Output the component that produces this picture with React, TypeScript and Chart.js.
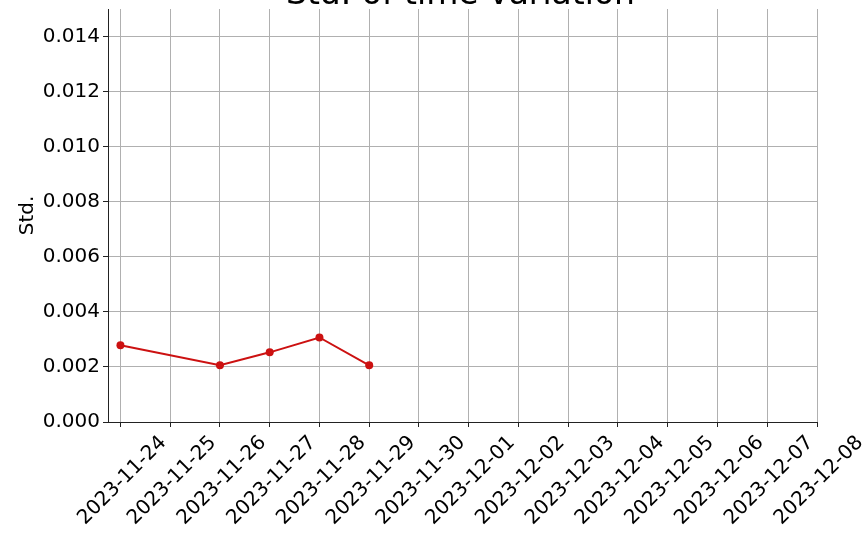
import React, { useEffect, useRef } from "react";
import { Chart, registerables } from "chart.js";

Chart.register(...registerables);

const dates = [
  "2023-11-24", "2023-11-25", "2023-11-26", "2023-11-27", "2023-11-28",
  "2023-11-29", "2023-11-30", "2023-12-01", "2023-12-02", "2023-12-03",
  "2023-12-04", "2023-12-05", "2023-12-06", "2023-12-07", "2023-12-08",
];
const pointDates = ["2023-11-24", "2023-11-26", "2023-11-27", "2023-11-28", "2023-11-29"];
const stdValues = [0.00279, 0.00206, 0.00253, 0.00307, 0.00206];
const yTicks = [0, 0.002, 0.004, 0.006, 0.008, 0.01, 0.012, 0.014];
const titleText = "Std. of time variation";
const yLabel = "Std.";

const FONT = "'DejaVu Sans', sans-serif";

const titlePlugin = {
  id: "topTitle",
  afterDraw(chart: any) {
    const { ctx, chartArea } = chart;
    ctx.save();
    ctx.font = `33px ${FONT}`;
    ctx.fillStyle = "#000";
    ctx.textAlign = "center";
    ctx.textBaseline = "alphabetic";
    ctx.fillText(titleText, (chartArea.left + chartArea.right) / 2 - 2, 4);
    ctx.restore();
  },
};

export default function App() {
  const ref = useRef<HTMLCanvasElement | null>(null);
  useEffect(() => {
    if (!ref.current) return;
    const chart = new Chart(ref.current, {
      type: "line",
      data: {
        datasets: [
          {
            data: pointDates.map((d, i) => ({ x: dates.indexOf(d), y: stdValues[i] })),
            borderColor: "#cc1111",
            backgroundColor: "#cc1111",
            borderWidth: 2,
            pointRadius: 4,
            pointHoverRadius: 4,
            pointBorderWidth: 0,
            tension: 0,
          },
        ],
      },
      options: {
        responsive: false,
        animation: false,
        maintainAspectRatio: false,
        layout: { padding: { top: 9, right: 47, left: 0, bottom: 0 } },
        plugins: { legend: { display: false }, tooltip: { enabled: false }, title: { display: false } },
        scales: {
          x: {
            type: "linear",
            min: -0.25,
            max: dates.length - 1,
            afterBuildTicks: (scale: any) => {
              scale.ticks = dates.map((_, i) => ({ value: i }));
            },
            afterFit: (scale: any) => {
              scale.height = 115;
              scale.paddingLeft = 0;
              scale.paddingRight = 0;
            },
            grid: { color: "#b0b0b0", lineWidth: 1, tickColor: "#222", tickLength: 5 },
            border: { color: "#222", width: 1 },
            ticks: {
              autoSkip: false,
              maxRotation: 45,
              minRotation: 45,
              labelOffset: 43,
              padding: 4,
              color: "#000",
              font: { family: FONT, size: 20 },
              callback: (v: any) => dates[Math.round(Number(v))] ?? "",
            },
          },
          y: {
            min: 0,
            max: 0.015,
            afterBuildTicks: (scale: any) => {
              scale.ticks = yTicks.map((v) => ({ value: v }));
            },
            afterFit: (scale: any) => {
              scale.width = 108;
              scale.paddingTop = 0;
              scale.paddingBottom = 0;
            },
            grid: { color: "#b0b0b0", lineWidth: 1, tickColor: "#222", tickLength: 5 },
            border: { color: "#222", width: 1 },
            ticks: {
              padding: 3,
              color: "#000",
              font: { family: FONT, size: 20 },
              callback: (v: any) => Number(v).toFixed(3),
            },
            title: {
              display: true,
              text: yLabel,
              color: "#000",
              font: { family: FONT, size: 20 },
              padding: { top: 16, bottom: 0 },
            },
          },
        },
      },
      plugins: [titlePlugin],
    } as any);
    return () => chart.destroy();
  }, []);
  return (
    <div style={{ position: "fixed", left: 0, top: 0, width: 864, height: 537, background: "#fff" }}>
      <canvas ref={ref} width={864} height={537} style={{ display: "block" }} />
    </div>
  );
}
